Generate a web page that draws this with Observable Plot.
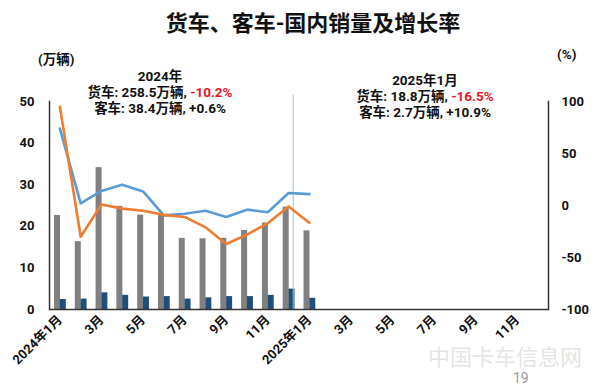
<!DOCTYPE html>
<html><head><meta charset="utf-8">
<script src="https://cdn.jsdelivr.net/npm/d3@7"></script>
<script src="https://cdn.jsdelivr.net/npm/@observablehq/plot@0.6"></script>
<style>
body{margin:0;background:#fff;font-family:Roboto,"Noto Sans CJK SC",sans-serif;}
#wrap{position:relative;width:600px;height:388px;overflow:hidden;background:#fff;}
#wrap svg{position:absolute;left:0;top:0;}
.t{position:absolute;font-weight:bold;color:#111;white-space:nowrap;font-family:Roboto,"Noto Sans CJK SC",sans-serif;}
.blk{text-align:center;width:240px;font-size:13.5px;line-height:16px;}
.red{color:#E8141E;}
</style>
</head><body>
<div id="wrap">
  <div class="t" style="left:113px;width:400px;text-align:center;top:11px;font-size:22px;line-height:26px;">货车、客车-国内销量及增长率</div>
  <div class="t" style="left:38px;top:51px;font-size:13.5px;line-height:16px;">(万辆)</div>
  <div class="t" style="left:557px;top:46px;font-size:13.5px;line-height:16px;">(%)</div>
  <div class="t blk" style="left:40px;top:68px;">2024年<br>货车: 258.5万辆, <span class="red">-10.2%</span><br>客车: 38.4万辆, +0.6%</div>
  <div class="t blk" style="left:305px;top:72px;">2025年1月<br>货车: 18.8万辆, <span class="red">-16.5%</span><br>客车: 2.7万辆, +10.9%</div>
  <div class="t" style="left:428px;top:346px;font-size:22px;line-height:24px;color:#e4e4e4;font-weight:normal;">中国卡车信息网</div>
  <div class="t" style="left:513px;top:370px;font-size:14px;line-height:16px;color:#9a9a9a;font-weight:normal;">19</div>
</div>
<script>
const months = ["2024-01","2024-02","2024-03","2024-04","2024-05","2024-06","2024-07","2024-08","2024-09","2024-10","2024-11","2024-12",
                "2025-01","2025-02","2025-03","2025-04","2025-05","2025-06","2025-07","2025-08","2025-09","2025-10","2025-11","2025-12"];
const tickLabels = ["2024年1月","","3月","","5月","","7月","","9月","","11月","",
                    "2025年1月","","3月","","5月","","7月","","9月","","11月",""];
const truckSales = [22.6,16.3,34.1,24.8,22.7,22.6,17.1,17.0,17.1,19.0,20.8,24.6,18.9];
const busSales   = [2.4,2.5,4.0,3.4,3.0,3.1,2.5,2.8,3.1,3.1,3.4,4.9,2.7];
const truckGrowth = [95,-30,1,-3,-5,-9,-11,-21,-37,-28,-17,-1,-16.5];
const busGrowth   = [74,2,14,20,13.5,-9.5,-8,-5,-11,-4,-6.5,12,10.9];
const leftTicks = [0,10,20,30,40,50];
const rightTicks = [-100,-50,0,50,100];
const markerMonth = ["2024-12"];

const rows = truckSales.map((v,i)=>({month:months[i], truck:v, bus:busSales[i], truckG:truckGrowth[i], busG:busGrowth[i]}));
const g2y = p => (p + 100) / 4;
const labelOf = new Map(months.map((m,i)=>[m, tickLabels[i]]));

const plot = Plot.plot({
  width:600, height:388,
  marginTop:101, marginBottom:79, marginLeft:49, marginRight:52,
  style:{fontFamily:'Roboto,"Noto Sans CJK SC",sans-serif', fontSize:"13px", fontWeight:"bold", color:"#111", background:"transparent"},
  x:{type:"band", domain:months, padding:0, round:false},
  y:{domain:[0,50]},
  marks:[
    Plot.barY(rows, {x:"month", y:"truck", fill:"#808080", insetLeft:5, insetRight:9.8}),
    Plot.barY(rows, {x:"month", y:"bus", fill:"#1F4E79", insetLeft:10.8, insetRight:4}),
    Plot.ruleX(markerMonth, {x:d=>d, dx:4.6, y1:0, y2:51.5, stroke:"#9DC3E6", strokeWidth:1}),
    Plot.lineY(rows, {x:"month", y:d=>g2y(d.busG), stroke:"#5B9BD5", strokeWidth:2.6}),
    Plot.lineY(rows, {x:"month", y:d=>g2y(d.truckG), stroke:"#ED7D31", strokeWidth:2.6}),
    Plot.axisY({anchor:"left", ticks:leftTicks, tickSize:0, tickPadding:15, label:null, tickFormat:d=>String(d)}),
    Plot.axisY({anchor:"right", ticks:rightTicks.map(g2y), tickSize:0, tickPadding:13, label:null, tickFormat:v=>String(Math.round(v*4-100))}),
    Plot.axisX({tickSize:0, tickRotate:-45, tickPadding:8, label:null, tickFormat:d=>labelOf.get(d)}),
    Plot.ruleY([0], {stroke:"#333", strokeWidth:1.5}),
    Plot.frame({anchor:"left", stroke:"#333", strokeWidth:1.5}),
    Plot.frame({anchor:"right", stroke:"#333", strokeWidth:1.5})
  ]
});
document.getElementById("wrap").prepend(plot);
</script>
</body></html>
